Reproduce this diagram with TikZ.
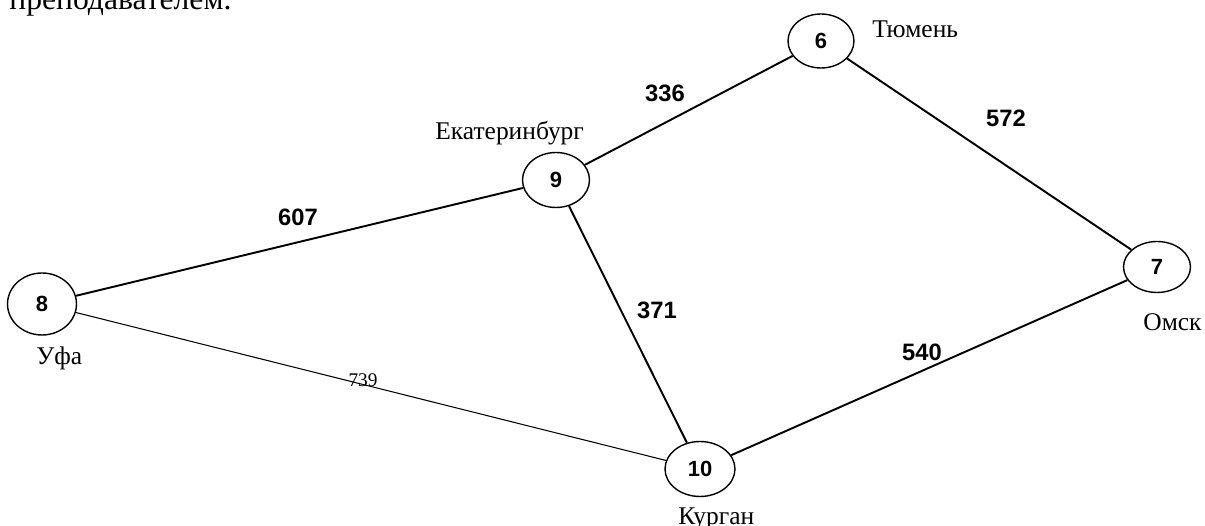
\documentclass[tikz,border=0pt]{standalone}
\usepackage{fontspec}
\setmainfont{Liberation Serif}
\setsansfont{Liberation Sans}
\usepackage{tikz}
\usetikzlibrary{shapes.geometric}

\begin{document}
\begin{tikzpicture}[x=0.02cm, y=-0.02cm,
        city/.style={draw, ellipse, line width=0.8pt, inner sep=0pt,
            font=\sffamily\bfseries\fontsize{12.5}{14}\selectfont},
        town/.style={inner sep=0pt, anchor=base west, font=\fontsize{14.5}{16}\selectfont},
        dist/.style={inner sep=0pt, font=\sffamily\bfseries\fontsize{13.5}{15}\selectfont},
        road/.style={line width=1.1pt},
        thinroad/.style={line width=0.6pt}]
    \useasboundingbox (0,0) rectangle (1205,526);
    \clip (0,0) rectangle (1205,526);

    %line of text cut off above
    \node[inner sep=0pt, anchor=base west, font=\fontsize{18}{20}\selectfont]
        (prev) at (9,10) {преподавателем.};

    %cities
    \node[city, minimum width=1.32cm, minimum height=1.08cm] (n6) at (821,41) {6};
    \node[city, minimum width=1.34cm, minimum height=1.10cm] (n9) at (556,180) {9};
    \node[city, minimum width=1.38cm, minimum height=1.24cm] (n8) at (42,304) {8};
    \node[city, minimum width=1.40cm, minimum height=1.10cm] (n10) at (700,469) {10};
    \node[city, minimum width=1.34cm, minimum height=1.02cm] (n7) at (1157,267) {7};

    %names
    \node[town] (tyumen) at (872,38) {Тюмень};
    \node[town] (ekb) at (435,140) {Екатеринбург};
    \node[town] (ufa) at (36,365) {Уфа};
    \node[town] (kurgan) at (678,525) {Курган};
    \node[town] (omsk) at (1143,331) {Омск};

    %roads
    \draw[road] (n9) -- (n6);
    \draw[road] (n6) -- (n7);
    \draw[road] (n8) -- (n9);
    \draw[road] (n9) -- (n10);
    \draw[road] (n10) -- (n7);
    \draw[thinroad] (n8) -- (n10);

    %distances
    \node[dist] (d96) at (665,93) {336};
    \node[dist] (d67) at (1006,118) {572};
    \node[dist] (d89) at (298,217) {607};
    \node[dist] (d910) at (657,310) {371};
    \node[dist] (d107) at (922,352) {540};
    \node[inner sep=0pt, font=\fontsize{11}{12}\selectfont] (d810) at (363,380) {739};
\end{tikzpicture}
\end{document}
